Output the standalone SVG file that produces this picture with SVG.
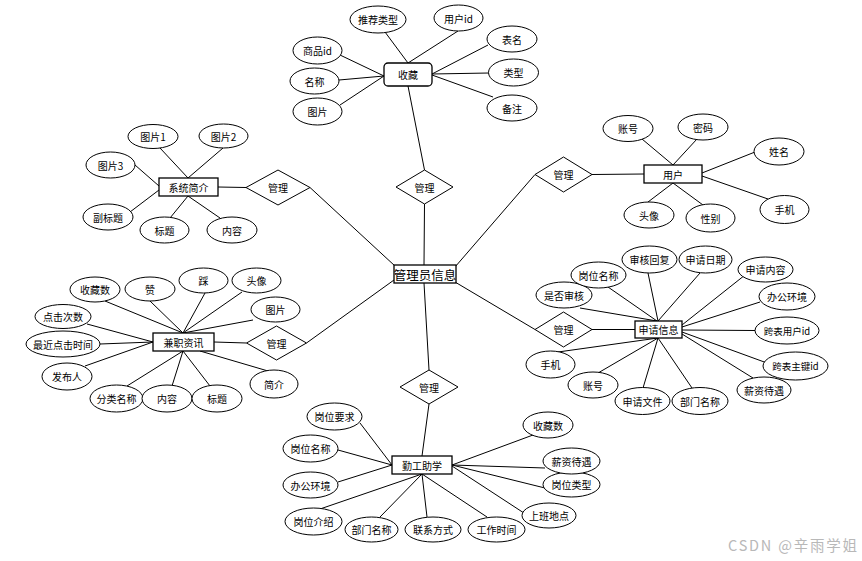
<svg xmlns="http://www.w3.org/2000/svg" width="862" height="561" viewBox="0 0 862 561">
<style>
.e{fill:#fff;stroke:#000;stroke-width:1}
.b{fill:#fff;stroke:#000;stroke-width:1.3}
.d{fill:#fff;stroke:#000;stroke-width:1}
.c line{stroke:#000;stroke-width:1}
text{font-family:"Noto Sans CJK SC","Liberation Sans",sans-serif;font-size:10px;text-anchor:middle;dominant-baseline:central;fill:#000}
.big{font-size:12.5px}
.sm{font-size:9.5px}
.wm{font-size:14.5px;fill:#b8b8b8;text-anchor:start;dominant-baseline:alphabetic}
</style>
<rect width="862" height="561" fill="#fff"/>
<g id="connectors" class="c">
<line x1="385" y1="32" x2="408" y2="63"/>
<line x1="458" y1="31" x2="408" y2="63"/>
<line x1="488" y1="45" x2="432" y2="74"/>
<line x1="489" y1="73" x2="432" y2="74"/>
<line x1="493" y1="97" x2="432" y2="75"/>
<line x1="340" y1="55" x2="384" y2="76"/>
<line x1="339" y1="80" x2="384" y2="76"/>
<line x1="340" y1="105" x2="384" y2="76"/>
<line x1="408" y1="86" x2="424.5" y2="170"/>
<line x1="424.5" y1="204" x2="424" y2="265"/>
<line x1="160" y1="148" x2="188" y2="178"/>
<line x1="223" y1="148" x2="188" y2="178"/>
<line x1="135" y1="165" x2="159" y2="186"/>
<line x1="130" y1="212" x2="159" y2="190"/>
<line x1="170" y1="218" x2="188" y2="196"/>
<line x1="220" y1="218" x2="188" y2="196"/>
<line x1="218" y1="187" x2="246" y2="187.5"/>
<line x1="310" y1="187.5" x2="395" y2="266"/>
<line x1="642" y1="139" x2="673" y2="165"/>
<line x1="697" y1="139" x2="673" y2="165"/>
<line x1="755" y1="152" x2="702" y2="173"/>
<line x1="768" y1="199" x2="702" y2="176"/>
<line x1="648" y1="202" x2="673" y2="183"/>
<line x1="703" y1="205" x2="673" y2="183"/>
<line x1="592" y1="174.5" x2="644" y2="174"/>
<line x1="535" y1="174.5" x2="455" y2="267"/>
<line x1="105" y1="301" x2="183" y2="333"/>
<line x1="150" y1="301" x2="183" y2="333"/>
<line x1="205" y1="293" x2="183" y2="333"/>
<line x1="242" y1="292" x2="183" y2="333"/>
<line x1="253" y1="320" x2="183" y2="333"/>
<line x1="87" y1="324" x2="153" y2="342"/>
<line x1="100" y1="344" x2="153" y2="342"/>
<line x1="85" y1="366" x2="153" y2="342"/>
<line x1="127" y1="386" x2="183" y2="351"/>
<line x1="172" y1="386" x2="183" y2="351"/>
<line x1="210" y1="386" x2="183" y2="351"/>
<line x1="200" y1="351" x2="268" y2="371"/>
<line x1="214" y1="342" x2="246.5" y2="343"/>
<line x1="306.5" y1="343" x2="394" y2="280"/>
<line x1="580" y1="308" x2="657" y2="321"/>
<line x1="608" y1="287" x2="657" y2="321"/>
<line x1="648" y1="273" x2="658" y2="321"/>
<line x1="700" y1="273" x2="658" y2="321"/>
<line x1="745" y1="275" x2="682" y2="325"/>
<line x1="760" y1="302" x2="682" y2="327"/>
<line x1="755" y1="330.5" x2="682" y2="330"/>
<line x1="767" y1="363" x2="682" y2="332"/>
<line x1="753" y1="378" x2="682" y2="334"/>
<line x1="692" y1="388" x2="658" y2="338"/>
<line x1="643" y1="388" x2="658" y2="338"/>
<line x1="598" y1="373" x2="658" y2="338"/>
<line x1="558" y1="352" x2="658" y2="338"/>
<line x1="592" y1="329.5" x2="635" y2="329.5"/>
<line x1="535" y1="329.5" x2="455" y2="282"/>
<line x1="424" y1="283" x2="429" y2="370"/>
<line x1="429" y1="404" x2="422" y2="456"/>
<line x1="360" y1="423" x2="392" y2="465"/>
<line x1="338" y1="450" x2="392" y2="465"/>
<line x1="338" y1="482" x2="392" y2="465"/>
<line x1="320" y1="509" x2="422" y2="474"/>
<line x1="380" y1="517" x2="422" y2="474"/>
<line x1="427" y1="517" x2="422" y2="474"/>
<line x1="487" y1="517" x2="422" y2="474"/>
<line x1="527" y1="515" x2="452" y2="466"/>
<line x1="545" y1="488" x2="452" y2="465"/>
<line x1="545" y1="468" x2="452" y2="465"/>
<line x1="533" y1="435" x2="452" y2="465"/>
</g>

<g id="n-shoucang"><rect class="b" x="384" y="63" width="48" height="23" rx="4"/><text x="408" y="74.5">收藏</text></g>
<g id="a-tuijian"><ellipse class="e" cx="378" cy="19.5" rx="28" ry="13.5"/><text x="378" y="19.5">推荐类型</text></g>
<g id="a-yonghuid"><ellipse class="e" cx="458.5" cy="18" rx="24.5" ry="13"/><text x="458.5" y="18">用户id</text></g>
<g id="a-biaoming"><ellipse class="e" cx="512" cy="39" rx="25" ry="13"/><text x="512" y="39">表名</text></g>
<g id="a-leixing"><ellipse class="e" cx="513.5" cy="72.5" rx="25" ry="13.5"/><text x="513.5" y="72.5">类型</text></g>
<g id="a-beizhu"><ellipse class="e" cx="512" cy="108" rx="25" ry="13"/><text x="512" y="108">备注</text></g>
<g id="a-shangpinid"><ellipse class="e" cx="317.5" cy="50.5" rx="24.5" ry="13.5"/><text x="317.5" y="50.5">商品id</text></g>
<g id="a-mingcheng"><ellipse class="e" cx="314.5" cy="81" rx="24.5" ry="13"/><text x="314.5" y="81">名称</text></g>
<g id="a-tupian0"><ellipse class="e" cx="317.5" cy="111.5" rx="24.5" ry="13.5"/><text x="317.5" y="111.5">图片</text></g>
<g id="r-guanli1"><polygon class="d" points="396,187 424.5,170 453,187 424.5,204"/><text x="424.5" y="187">管理</text></g>

<g id="n-admin"><rect class="b" x="394" y="265" width="62" height="18"/><text class="big" x="425" y="274">管理员信息</text></g>

<g id="n-xitong"><rect class="b" x="159" y="178" width="59" height="18"/><text x="188.5" y="187">系统简介</text></g>
<g id="a-tp1"><ellipse class="e" cx="153" cy="136.5" rx="25" ry="12"/><text x="153" y="136.5">图片1</text></g>
<g id="a-tp2"><ellipse class="e" cx="223.5" cy="136" rx="24.5" ry="12"/><text x="223.5" y="136">图片2</text></g>
<g id="a-tp3"><ellipse class="e" cx="110.5" cy="165" rx="24.5" ry="13"/><text x="110.5" y="165">图片3</text></g>
<g id="a-fubiaoti"><ellipse class="e" cx="108" cy="217" rx="25" ry="13"/><text x="108" y="217">副标题</text></g>
<g id="a-biaoti1"><ellipse class="e" cx="164.5" cy="230" rx="24.5" ry="13"/><text x="164.5" y="230">标题</text></g>
<g id="a-neirong1"><ellipse class="e" cx="232" cy="230" rx="25" ry="13"/><text x="232" y="230">内容</text></g>
<g id="r-guanli2"><polygon class="d" points="246,187.5 278,170 310,187.5 278,205"/><text x="278" y="187.5">管理</text></g>

<g id="n-yonghu"><rect class="b" x="644" y="165" width="58" height="18"/><text x="673" y="174">用户</text></g>
<g id="a-zhanghao"><ellipse class="e" cx="628" cy="128.5" rx="25" ry="13"/><text x="628" y="128.5">账号</text></g>
<g id="a-mima"><ellipse class="e" cx="703" cy="127" rx="25" ry="13"/><text x="703" y="127">密码</text></g>
<g id="a-xingming"><ellipse class="e" cx="779" cy="151.5" rx="25" ry="13.5"/><text x="779" y="151.5">姓名</text></g>
<g id="a-shouji"><ellipse class="e" cx="784.5" cy="209.5" rx="24.5" ry="14"/><text x="784.5" y="209.5">手机</text></g>
<g id="a-xingbie"><ellipse class="e" cx="710.5" cy="218" rx="24.5" ry="14"/><text x="710.5" y="218">性别</text></g>
<g id="a-touxiang"><ellipse class="e" cx="649" cy="215" rx="25" ry="13"/><text x="649" y="215">头像</text></g>
<g id="r-guanli3"><polygon class="d" points="535,174.5 563.5,157 592,174.5 563.5,192"/><text x="563.5" y="174.5">管理</text></g>

<g id="n-jianzhi"><rect class="b" x="153" y="333" width="61" height="18"/><text x="183.5" y="342">兼职资讯</text></g>
<g id="a-shoucangshu"><ellipse class="e" cx="95" cy="289.5" rx="25" ry="12.5"/><text x="95" y="289.5">收藏数</text></g>
<g id="a-zan"><ellipse class="e" cx="150" cy="289" rx="25" ry="12"/><text x="150" y="289">赞</text></g>
<g id="a-cai"><ellipse class="e" cx="203.5" cy="280.5" rx="24.5" ry="12.5"/><text x="203.5" y="280.5">踩</text></g>
<g id="a-touxiang2"><ellipse class="e" cx="256.5" cy="280.5" rx="24.5" ry="12.5"/><text x="256.5" y="280.5">头像</text></g>
<g id="a-tupian2"><ellipse class="e" cx="275.5" cy="309.5" rx="24.5" ry="12.5"/><text x="275.5" y="309.5">图片</text></g>
<g id="a-jianjie"><ellipse class="e" cx="274" cy="384" rx="24" ry="14"/><text x="274" y="384">简介</text></g>
<g id="a-djcs"><ellipse class="e" cx="63" cy="316.5" rx="28" ry="12"/><text x="63" y="316.5">点击次数</text></g>
<g id="a-zjdj"><ellipse class="e" cx="63" cy="344" rx="37" ry="13"/><text x="63" y="344">最近点击时间</text></g>
<g id="a-fabuRen"><ellipse class="e" cx="67" cy="376.5" rx="25" ry="13.5"/><text x="67" y="376.5">发布人</text></g>
<g id="a-flmc"><ellipse class="e" cx="116.5" cy="398.5" rx="26.5" ry="13.5"/><text x="116.5" y="398.5">分类名称</text></g>
<g id="a-neirong2"><ellipse class="e" cx="167" cy="398.5" rx="25" ry="13.5"/><text x="167" y="398.5">内容</text></g>
<g id="a-biaoti2"><ellipse class="e" cx="217" cy="398.5" rx="25" ry="13.5"/><text x="217" y="398.5">标题</text></g>
<g id="r-guanli4"><polygon class="d" points="246.5,343 276.5,326 306.5,343 276.5,360"/><text x="276.5" y="343">管理</text></g>

<g id="n-shenqing"><rect class="b" x="635" y="321" width="47" height="17"/><text x="658.5" y="329.5">申请信息</text></g>
<g id="a-sfsh"><ellipse class="e" cx="564" cy="295" rx="28" ry="13"/><text x="564" y="295">是否审核</text></g>
<g id="a-gwmc"><ellipse class="e" cx="598.5" cy="275" rx="27.5" ry="13"/><text x="598.5" y="275">岗位名称</text></g>
<g id="a-shhf"><ellipse class="e" cx="649.5" cy="259.5" rx="27.5" ry="13.5"/><text x="649.5" y="259.5">审核回复</text></g>
<g id="a-sqrq"><ellipse class="e" cx="705.5" cy="259.5" rx="26.5" ry="13.5"/><text x="705.5" y="259.5">申请日期</text></g>
<g id="a-sqnr"><ellipse class="e" cx="765.5" cy="269.5" rx="27.5" ry="12.5"/><text x="765.5" y="269.5">申请内容</text></g>
<g id="a-bghj"><ellipse class="e" cx="787" cy="296.5" rx="28" ry="13.5"/><text x="787" y="296.5">办公环境</text></g>
<g id="a-kbyhid"><ellipse class="e" cx="787" cy="330.5" rx="32" ry="13.5"/><text class="sm" x="787" y="330.5">跨表用户id</text></g>
<g id="a-kbzjid"><ellipse class="e" cx="795.5" cy="366" rx="32.5" ry="14"/><text class="sm" x="795.5" y="366">跨表主键id</text></g>
<g id="a-xzdy"><ellipse class="e" cx="764" cy="390" rx="27" ry="13"/><text x="764" y="390">薪资待遇</text></g>
<g id="a-bmmc"><ellipse class="e" cx="700" cy="401" rx="28" ry="13.5"/><text x="700" y="401">部门名称</text></g>
<g id="a-sqwj"><ellipse class="e" cx="642.5" cy="401" rx="27.5" ry="13.5"/><text x="642.5" y="401">申请文件</text></g>
<g id="a-zhanghao2"><ellipse class="e" cx="593" cy="385" rx="25" ry="13"/><text x="593" y="385">账号</text></g>
<g id="a-shouji2"><ellipse class="e" cx="550.5" cy="364.5" rx="24.5" ry="13.5"/><text x="550.5" y="364.5">手机</text></g>
<g id="r-guanli5"><polygon class="d" points="535,329.5 563.5,312 592,329.5 563.5,347"/><text x="563.5" y="329.5">管理</text></g>

<g id="n-qingong"><rect class="b" x="392" y="456" width="60" height="18"/><text x="422" y="465">勤工助学</text></g>
<g id="a-gwyq"><ellipse class="e" cx="334.5" cy="416.5" rx="27.5" ry="13.5"/><text x="334.5" y="416.5">岗位要求</text></g>
<g id="a-gwmc2"><ellipse class="e" cx="310.5" cy="448.5" rx="27.5" ry="13.5"/><text x="310.5" y="448.5">岗位名称</text></g>
<g id="a-bghj2"><ellipse class="e" cx="310.5" cy="485" rx="27.5" ry="13"/><text x="310.5" y="485">办公环境</text></g>
<g id="a-gwjs"><ellipse class="e" cx="313.5" cy="521.5" rx="28.5" ry="13.5"/><text x="313.5" y="521.5">岗位介绍</text></g>
<g id="a-bmmc2"><ellipse class="e" cx="371.5" cy="529.5" rx="26.5" ry="12.5"/><text x="371.5" y="529.5">部门名称</text></g>
<g id="a-lxfs"><ellipse class="e" cx="433" cy="529.5" rx="28" ry="12.5"/><text x="433" y="529.5">联系方式</text></g>
<g id="a-gzsj"><ellipse class="e" cx="496.5" cy="529.5" rx="28.5" ry="12.5"/><text x="496.5" y="529.5">工作时间</text></g>
<g id="a-sbdd"><ellipse class="e" cx="549" cy="515.5" rx="27" ry="12.5"/><text x="549" y="515.5">上班地点</text></g>
<g id="a-gwlx"><ellipse class="e" cx="571.5" cy="484.5" rx="28.5" ry="12.5"/><text x="571.5" y="484.5">岗位类型</text></g>
<g id="a-xzdy2"><ellipse class="e" cx="571.5" cy="461" rx="28.5" ry="13"/><text x="571.5" y="461">薪资待遇</text></g>
<g id="a-scs2"><ellipse class="e" cx="548" cy="425" rx="25" ry="13"/><text x="548" y="425">收藏数</text></g>
<g id="r-guanli6"><polygon class="d" points="400,387 429,370 458,387 429,404"/><text x="429" y="387">管理</text></g>

<text class="wm" x="728" y="551" textLength="129" lengthAdjust="spacing">CSDN @辛雨学姐</text>
</svg>
